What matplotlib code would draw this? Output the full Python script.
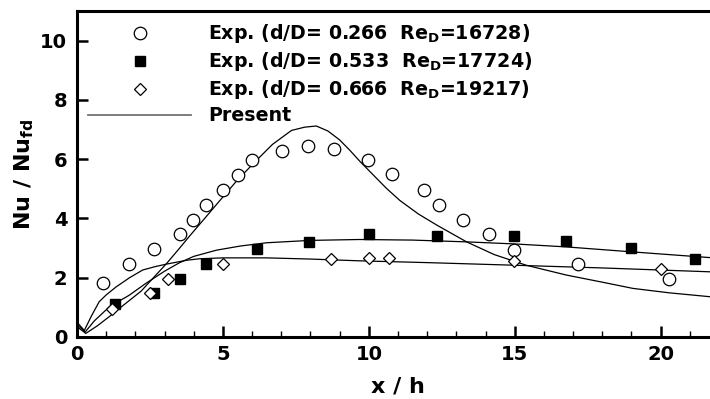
import matplotlib
matplotlib.use('Agg')
import matplotlib.pyplot as plt
from matplotlib.lines import Line2D
from matplotlib.ticker import MultipleLocator

plt.rcParams['font.family'] = ['DejaVu Sans']
plt.rcParams['font.weight'] = 'bold'
plt.rcParams['mathtext.fontset'] = 'custom'
plt.rcParams['mathtext.rm'] = 'DejaVu Sans:bold'
plt.rcParams['mathtext.it'] = 'DejaVu Sans:bold'
plt.rcParams['mathtext.bf'] = 'DejaVu Sans:bold'

# ---------------------------------------------------------------------------------------
"""experiment data (read off the picture)"""
exp1_x = [0.88, 1.77, 2.64, 3.53, 3.98, 4.41, 5.0, 5.5, 6.0, 7.04, 7.93, 8.80,
          9.98, 10.8, 11.9, 12.4, 13.23, 14.11, 14.99, 17.18, 20.27]
exp1_y = [1.81, 2.46, 2.96, 3.46, 3.96, 4.45, 4.97, 5.48, 5.96, 6.26, 6.44, 6.35,
          5.98, 5.49, 4.97, 4.45, 3.96, 3.46, 2.95, 2.46, 1.95]

exp2_x = [1.30, 2.64, 3.53, 4.41, 6.16, 7.94, 10.0, 12.34, 14.99, 16.76, 18.97, 21.17]
exp2_y = [1.10, 1.47, 1.95, 2.46, 2.96, 3.21, 3.46, 3.42, 3.40, 3.23, 2.99, 2.63]

exp3_x = [1.20, 2.49, 3.13, 4.99, 8.69, 10.0, 10.68, 14.99, 20.0]
exp3_y = [0.93, 1.47, 1.95, 2.46, 2.64, 2.65, 2.65, 2.55, 2.31]

"""present model curves"""
pre1_x = [0, 0.3, 0.7, 1.11, 1.6, 2.2, 2.6, 3.07, 3.5, 3.87, 4.4, 4.9, 5.5, 6.15,
          6.7, 7.35, 7.8, 8.2, 8.6, 9.0, 9.35, 9.7, 10.2, 10.6, 11.06, 11.7, 12.34,
          13.35, 14.3, 15.4, 16.77, 18.0, 19.05, 20.3, 21.68, 22.0]
pre1_y = [0.35, 0.12, 0.38, 0.69, 1.08, 1.55, 1.98, 2.48, 2.98, 3.42, 4.03, 4.61,
          5.3, 5.96, 6.5, 6.97, 7.08, 7.12, 6.95, 6.65, 6.3, 5.92, 5.42, 5.02, 4.61,
          4.15, 3.77, 3.21, 2.78, 2.42, 2.09, 1.85, 1.64, 1.49, 1.36, 1.33]

pre2_x = [0, 0.28, 0.6, 1.11, 1.79, 2.36, 3.0, 3.5, 4.0, 4.78, 5.6, 6.5, 8.0, 9.69,
          11.5, 13.35, 15.0, 16.77, 19.05, 21.68, 22.0]
pre2_y = [0.42, 0.17, 0.55, 1.02, 1.41, 1.81, 2.22, 2.5, 2.72, 2.93, 3.07, 3.18,
          3.26, 3.29, 3.27, 3.21, 3.14, 3.04, 2.87, 2.68, 2.66]

pre3_x = [0, 0.25, 0.5, 0.76, 1.0, 1.34, 1.8, 2.25, 2.7, 3.07, 3.76, 4.2, 5.0, 6.5,
          8.0, 9.69, 12.0, 15.05, 18.0, 21.68, 22.0]
pre3_y = [0.5, 0.22, 0.72, 1.19, 1.42, 1.69, 2.0, 2.26, 2.38, 2.46, 2.59, 2.64,
          2.67, 2.67, 2.63, 2.57, 2.51, 2.42, 2.33, 2.2, 2.19]

labels = ['Exp. (d/D= 0.266  Re$_\\mathregular{D}$=16728)',
          'Exp. (d/D= 0.533  Re$_\\mathregular{D}$=17724)',
          'Exp. (d/D= 0.666  Re$_\\mathregular{D}$=19217)',
          'Present']

# ---------------------------------------------------------------------------------------
fig = plt.figure(figsize=(7.10, 3.99), dpi=100)
ax = fig.add_axes([77 / 710, 62 / 399, 642 / 710, 326 / 399])

for px, py in [(pre1_x, pre1_y), (pre2_x, pre2_y), (pre3_x, pre3_y)]:
    ax.plot(px, py, color='black', lw=0.9)

ax.plot(exp1_x, exp1_y, 'o', ms=9, mfc='white', mec='black', mew=0.9, ls='none')
ax.plot(exp2_x, exp2_y, 's', ms=7, mfc='black', mec='black', ls='none')
ax.plot(exp3_x, exp3_y, 'D', ms=6.5, mfc='white', mec='black', mew=0.9, ls='none')

handles = [Line2D([], [], marker='o', ms=9, mfc='white', mec='black', mew=0.9, ls='none'),
           Line2D([], [], marker='s', ms=7, mfc='black', mec='black', ls='none'),
           Line2D([], [], marker='D', ms=6.5, mfc='white', mec='black', mew=0.9, ls='none'),
           Line2D([], [], color='0.45', lw=1.3)]
ax.legend(handles, labels, loc='upper left', bbox_to_anchor=(0.0, 1.0), frameon=False,
          fontsize=13.7, handlelength=5.4, handletextpad=0.9, labelspacing=0.26,
          borderaxespad=0.3, borderpad=0.3)

ax.set_xlim(0, 22)
ax.set_ylim(0, 11)
ax.xaxis.set_major_locator(MultipleLocator(5))
ax.xaxis.set_minor_locator(MultipleLocator(1))
ax.yaxis.set_major_locator(MultipleLocator(2))
ax.tick_params(which='major', direction='in', length=8, width=1.8, labelsize=14, pad=6)
ax.tick_params(which='minor', direction='in', length=4.5, width=1.0)
ax.tick_params(axis='y', which='major', pad=7)
for s in ['left', 'bottom', 'top']:
    ax.spines[s].set_linewidth(2.2)
ax.spines['right'].set_visible(False)

ax.set_xlabel('x / h', fontsize=16, fontweight='bold', labelpad=9)
ax.set_ylabel('Nu / Nu$_\\mathregular{fd}$', fontsize=16, fontweight='bold', labelpad=3)

plt.savefig('out.png', dpi=100)
